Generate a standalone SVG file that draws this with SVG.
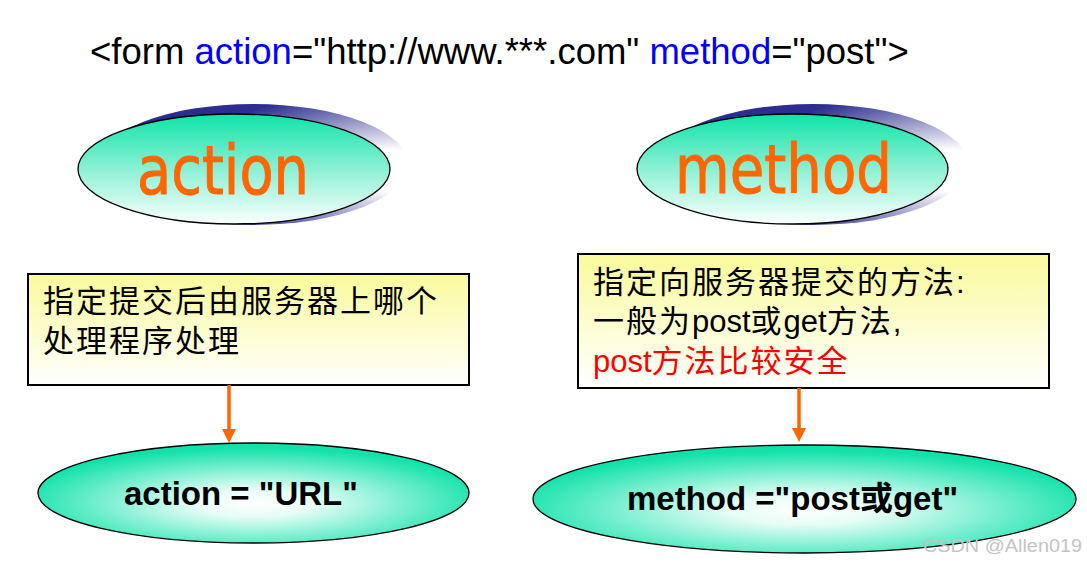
<svg xmlns="http://www.w3.org/2000/svg" width="1087" height="564" viewBox="0 0 1087 564">
<defs>
<linearGradient id="topFill" x1="0" y1="0" x2="0" y2="1">
<stop offset="0" stop-color="#0FE3A8"/>
<stop offset="0.5" stop-color="#8CF0D4"/>
<stop offset="1" stop-color="#FAFFFD"/>
</linearGradient>
<radialGradient id="shadowFill" cx="0.96" cy="0.55" r="0.68">
<stop offset="0" stop-color="#FFFFFF"/>
<stop offset="0.25" stop-color="#FFFFFF"/>
<stop offset="1" stop-color="#2B2E8E"/>
</radialGradient>
<radialGradient id="botFill" cx="0.5" cy="0.6" r="0.55">
<stop offset="0" stop-color="#FFFFFF"/>
<stop offset="0.25" stop-color="#E6FDF6"/>
<stop offset="1" stop-color="#12E2AA"/>
</radialGradient>
<linearGradient id="boxFill" x1="0" y1="0" x2="0" y2="1">
<stop offset="0" stop-color="#FAFA9C"/>
<stop offset="1" stop-color="#FFFFFF"/>
</linearGradient>
</defs>
<style>
.lat{font-family:"Liberation Sans","Noto Sans CJK SC",sans-serif}
.kw{fill:#0000FF}
.big{font-family:"DejaVu Sans",Verdana,sans-serif;font-size:68px;fill:#FF6600;stroke:#FF6600;stroke-width:1}
.box{fill:url(#boxFill);stroke:#000;stroke-width:2}
.btxt{font-family:"Liberation Sans","Noto Sans CJK SC",sans-serif;font-size:31px;fill:#000}
.red{fill:#FF0000}
.cj{letter-spacing:2px}
.ell{stroke:#000;stroke-width:1.3}
.bold{font-family:"Liberation Sans","Noto Sans CJK SC",sans-serif;font-size:33px;font-weight:bold;fill:#000}
.arr{stroke:#FF6600;stroke-width:3.5;fill:none}
.head{fill:#FF6600}
</style>
<text class="lat" x="90" y="64" font-size="36.5" fill="#000">&lt;form <tspan class="kw">action</tspan>="http://www.***.com" <tspan class="kw">method</tspan>="post"&gt;</text>
<g id="node-action">
<ellipse cx="253" cy="164.5" rx="155" ry="60.5" fill="url(#shadowFill)"/>
<ellipse class="ell" cx="234" cy="169" rx="156" ry="55" fill="url(#topFill)"/>
<text class="big" x="223" y="194" text-anchor="middle" textLength="172" lengthAdjust="spacingAndGlyphs">action</text>
</g>
<g id="node-method">
<ellipse cx="813" cy="164.5" rx="155" ry="60.5" fill="url(#shadowFill)"/>
<ellipse class="ell" cx="792.5" cy="169" rx="155.5" ry="55" fill="url(#topFill)"/>
<text class="big" x="783.5" y="193" text-anchor="middle" textLength="217" lengthAdjust="spacingAndGlyphs">method</text>
</g>
<g id="node-action-desc">
<rect class="box" x="28" y="274" width="441" height="111"/>
<text class="btxt" x="43" y="312"><tspan class="cj">指定提交后由服务器上哪个</tspan></text>
<text class="btxt" x="43" y="352"><tspan class="cj">处理程序处理</tspan></text>
</g>
<g id="node-method-desc">
<rect class="box" x="578" y="254" width="471" height="134"/>
<text class="btxt" x="593" y="293"><tspan class="cj">指定向服务器提交的方法</tspan>:</text>
<text class="btxt" x="593" y="332"><tspan class="cj">一般为</tspan>post<tspan class="cj">或</tspan>get<tspan class="cj">方法</tspan>,</text>
<text class="btxt red" x="593" y="372">post<tspan class="cj">方法比较安全</tspan></text>
</g>
<g id="node-action-value">
<ellipse class="ell" cx="253.5" cy="493" rx="215.5" ry="50" fill="url(#botFill)"/>
<text class="bold" x="124" y="505">action = "URL"</text>
</g>
<g id="node-method-value">
<ellipse class="ell" cx="804.5" cy="499" rx="271.5" ry="54" fill="url(#botFill)"/>
<text class="bold" x="627" y="510">method ="post或get"</text>
</g>
<g id="connectors">
<line class="arr" x1="229" y1="385" x2="229" y2="431"/>
<polygon class="head" points="222,429 236,429 229,443"/>
<line class="arr" x1="799" y1="388" x2="799" y2="430"/>
<polygon class="head" points="792,428 806,428 799,442"/>
</g>
<text x="923" y="552" font-family="Liberation Sans, sans-serif" font-size="18" fill="#C4C4C4" textLength="159" lengthAdjust="spacingAndGlyphs">CSDN @Allen019</text>
</svg>
